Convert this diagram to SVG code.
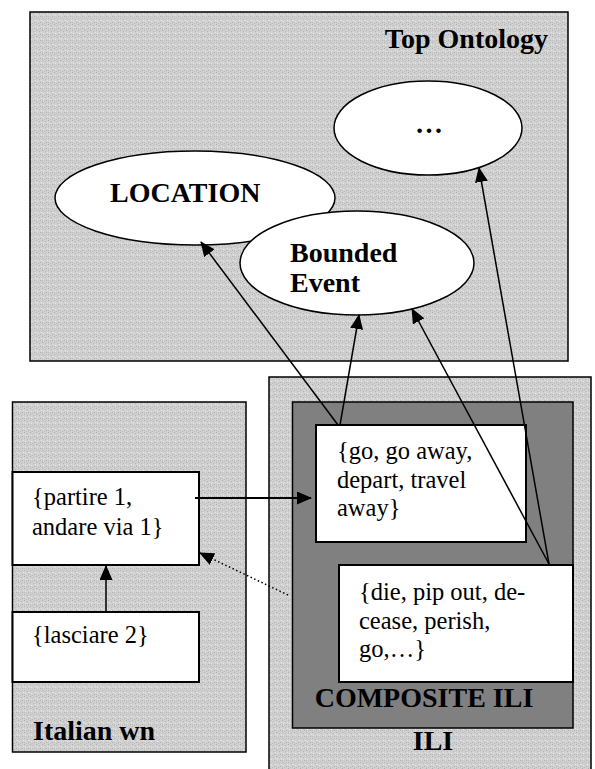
<svg xmlns="http://www.w3.org/2000/svg" width="595" height="769" viewBox="0 0 595 769">
<defs>
<pattern id="tex" width="6" height="6" patternUnits="userSpaceOnUse">
<rect width="6" height="6" fill="#d0d0d0"/>
<rect x="0" y="0" width="1" height="1" fill="#b0b0b0"/>
<rect x="3" y="1" width="1" height="1" fill="#b8b8b8"/>
<rect x="1" y="3" width="1" height="1" fill="#e8e8e8"/>
<rect x="4" y="4" width="1" height="1" fill="#b0b0b0"/>
<rect x="2" y="5" width="1" height="1" fill="#bcbcbc"/>
<rect x="5" y="2" width="1" height="1" fill="#e6e6e6"/>
<rect x="0" y="4" width="1" height="1" fill="#c0c0c0"/>
</pattern>
<marker id="ah" markerWidth="15" markerHeight="13" refX="14" refY="6.5" orient="auto" markerUnits="userSpaceOnUse">
<path d="M0,0 L15,6.5 L0,13 Z" fill="#000"/>
</marker>
</defs>
<style>
.panel{fill:url(#tex);stroke:#000;stroke-width:1.5}
.box{fill:#fff;stroke:#000;stroke-width:2}
.ell{fill:#fff;stroke:#000;stroke-width:1.5}
.b{font-family:"Liberation Serif","Times New Roman",serif;font-weight:bold;font-size:28px;fill:#000}
.t{font-family:"Liberation Serif","Times New Roman",serif;font-size:24.5px;fill:#000}
.c{fill:none;stroke:#000;stroke-width:1.5}
</style>
<rect width="595" height="769" fill="#fff"/>

<g id="top-ontology">
<rect class="panel" x="30" y="12" width="538" height="349"/>
<text class="b" x="548" y="48" text-anchor="end">Top Ontology</text>
</g>
<g id="ellipsis-node">
<ellipse class="ell" cx="428" cy="128" rx="94" ry="47"/>
<text class="b" x="429" y="133" text-anchor="middle">…</text>
</g>
<g id="location">
<ellipse class="ell" cx="195" cy="198" rx="140" ry="47"/>
<text class="b" x="110" y="202">LOCATION</text>
</g>
<g id="bounded-event">
<ellipse class="ell" cx="357" cy="263" rx="117" ry="52"/>
<text class="b" x="290" y="262">Bounded</text>
<text class="b" x="290" y="292">Event</text>
</g>

<g id="italian-wn">
<rect class="panel" x="12.5" y="402" width="233.5" height="350"/>
<text class="b" x="33" y="740">Italian wn</text>
</g>
<g id="partire">
<rect class="box" x="12.5" y="472" width="186.5" height="93"/>
<text class="t" x="32" y="505">{partire 1,</text>
<text class="t" x="32" y="535">andare via 1}</text>
</g>
<g id="lasciare">
<rect class="box" x="12.5" y="612" width="186.5" height="70"/>
<text class="t" x="32" y="643">{lasciare 2}</text>
</g>

<g id="ili">
<rect class="panel" x="269" y="377" width="322" height="400"/>
<text class="b" x="433" y="750" text-anchor="middle">ILI</text>
</g>
<g id="composite-ili">
<rect x="292.5" y="402" width="280.5" height="326" fill="#808080" stroke="#000" stroke-width="1.5"/>
<text class="b" x="424" y="707" text-anchor="middle">COMPOSITE ILI</text>
</g>
<g id="go">
<rect class="box" x="316" y="425" width="210" height="117"/>
<text class="t" x="337" y="459">{go, go away,</text>
<text class="t" x="337" y="488">depart, travel</text>
<text class="t" x="337" y="516">away}</text>
</g>
<g id="die">
<rect class="box" x="339" y="565" width="234" height="117"/>
<text class="t" x="359" y="600">{die, pip out, de-</text>
<text class="t" x="359" y="629">cease, perish,</text>
<text class="t" x="359" y="657">go,…}</text>
</g>

<g id="connectors">
<line class="c" x1="338" y1="425" x2="201" y2="242" marker-end="url(#ah)"/>
<line class="c" x1="340" y1="425" x2="359" y2="315" marker-end="url(#ah)"/>
<line class="c" x1="549" y1="564" x2="412" y2="309" marker-end="url(#ah)"/>
<line class="c" x1="549" y1="564" x2="479" y2="168" marker-end="url(#ah)"/>
<line x1="195" y1="498" x2="311" y2="498" stroke="#000" stroke-width="2.2" marker-end="url(#ah)"/>
<line class="c" x1="106" y1="612" x2="106" y2="566" marker-end="url(#ah)"/>
<line x1="288" y1="595" x2="200" y2="553" stroke="#000" stroke-width="1.5" stroke-dasharray="1.5,2.5" marker-end="url(#ah)"/>
</g>
</svg>
